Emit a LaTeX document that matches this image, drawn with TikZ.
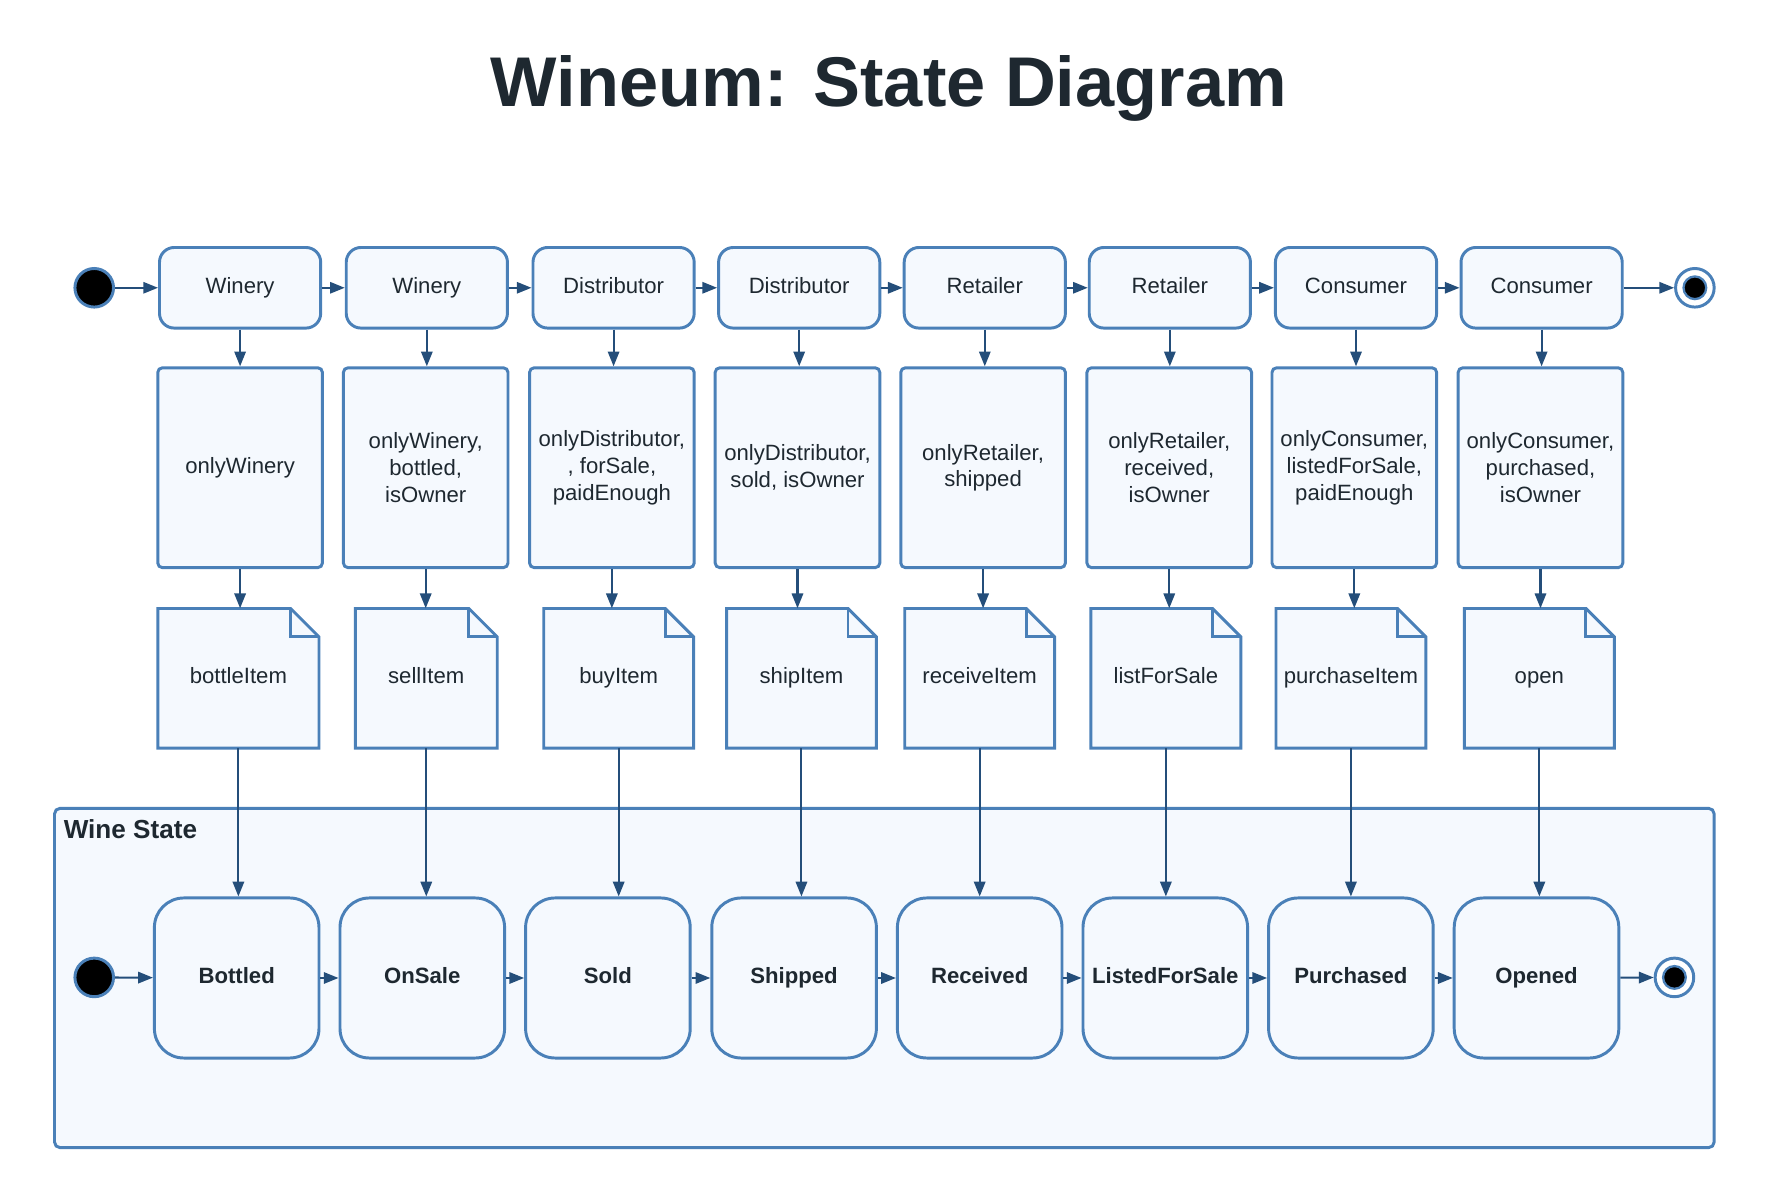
\documentclass[tikz,border=0pt]{standalone}
\usepackage{fontspec}
\setmainfont{Liberation Sans}
\usetikzlibrary{arrows.meta}
\definecolor{bfill}{HTML}{F5F9FE}
\definecolor{bline}{HTML}{4A80B8}
\definecolor{aline}{HTML}{244E7A}
\definecolor{tcol}{HTML}{1E2830}
\begin{document}
\begin{tikzpicture}[x=1pt,y=-1pt,
  base/.style={draw=bline, fill=bfill, line width=2.6pt, text=tcol, font=\fontsize{19.5}{23.5}\selectfont, align=center, inner sep=0pt},
  oneline/.style={text height=14pt, text depth=4pt},
  actor/.style={base, oneline, rounded corners=13pt, minimum width=142pt, minimum height=71pt},
  guard/.style={base, rounded corners=4pt, minimum width=145pt, minimum height=176pt},
  notebox/.style={oneline, text=tcol, font=\fontsize{19.5}{23.5}\selectfont, inner sep=0pt, minimum height=123pt},
  noteline/.style={draw=bline, fill=bfill, line width=2.6pt, line join=miter},
  state/.style={base, oneline, rounded corners=26pt, minimum width=145pt, minimum height=141pt, font=\fontsize{19.5}{23.5}\selectfont\bfseries},
  container/.style={base, rounded corners=5pt, minimum width=1462pt, minimum height=299pt},
  initdot/.style={circle, draw=bline, fill=black, line width=2.6pt, minimum size=34pt, inner sep=0pt},
  finalring/.style={circle, draw=bline, fill=white, line width=2.6pt, minimum size=34pt, inner sep=0pt},
  finaldot/.style={circle, draw=bline, fill=black, line width=2pt, minimum size=20pt, inner sep=0pt},
  flow/.style={draw=aline, line width=1.8pt, -{Triangle[length=13pt,width=10pt]}}
]
\useasboundingbox (0,0) rectangle (1568,1046.6);

% title
\node[anchor=base, text=tcol, font=\fontsize{62}{70}\selectfont\bfseries] (title) at (783,93.5) {Wineum: State Diagram};

% top row
\node[initdot] (s0) at (83,253.5) {};
\node[actor] (t1) at (211.5,253.5) {Winery};
\node[actor] (t2) at (376,253.5) {Winery};
\node[actor] (t3) at (540.5,253.5) {Distributor};
\node[actor] (t4) at (704,253.5) {Distributor};
\node[actor] (t5) at (867.5,253.5) {Retailer};
\node[actor] (t6) at (1030.5,253.5) {Retailer};
\node[actor] (t7) at (1194.5,253.5) {Consumer};
\node[actor] (t8) at (1358,253.5) {Consumer};
\node[finalring] (e0) at (1493,253.5) {};
\node[finaldot] (e0d) at (1493,253.5) {};

% guards
\node[guard] (m1) at (211.5,412) {\raisebox{1.5pt}{onlyWinery}};
\node[guard] (m2) at (375,412) {onlyWinery,\\bottled,\\isOwner};
\node[guard] (m3) at (539,412) {onlyDistributor,\\, forSale,\\paidEnough};
\node[guard] (m4) at (702.5,412) {onlyDistributor,\\sold, isOwner};
\node[guard] (m5) at (866,412) {onlyRetailer,\\shipped};
\node[guard] (m6) at (1030,412) {onlyRetailer,\\received,\\isOwner};
\node[guard] (m7) at (1193,412) {onlyConsumer,\\listedForSale,\\paidEnough};
\node[guard] (m8) at (1357,412) {onlyConsumer,\\purchased,\\isOwner};

% notes (functions)
\foreach \cx/\w/\t [count=\i] in {210/142/bottleItem, 375.5/125/sellItem, 545/132/buyItem, 706/132/shipItem, 863/132/receiveItem, 1027/132/listForSale, 1190/132/purchaseItem, 1356/132/open}{
  \path[noteline] ({\cx-\w/2},659) -- ({\cx-\w/2},536) -- ({\cx+\w/2-25},536) -- ({\cx+\w/2},561) -- ({\cx+\w/2},659) -- cycle;
  \draw[bline, line width=2.6pt, line join=miter] ({\cx+\w/2-25},536) -- ({\cx+\w/2-25},561) -- ({\cx+\w/2},561);
  \node[notebox, minimum width=\w pt] (n\i) at (\cx,597.5) {\t};
}

% container
\node[container] (ws) at (779,861.5) {};
\node[anchor=west, text=tcol, font=\fontsize{23}{27}\selectfont\bfseries, inner sep=0pt] (wsl) at (56,730) {Wine State};

% states
\node[initdot] (s1) at (83,861) {};
\node[state] (q1) at (208.5,861.5) {Bottled};
\node[state] (q2) at (372,861.5) {OnSale};
\node[state] (q3) at (535.5,861.5) {Sold};
\node[state] (q4) at (699.5,861.5) {Shipped};
\node[state] (q5) at (863,861.5) {Received};
\node[state] (q6) at (1026.5,861.5) {ListedForSale};
\node[state] (q7) at (1190,861.5) {Purchased};
\node[state] (q8) at (1353.5,861.5) {Opened};
\node[finalring] (e1) at (1475,861) {};
\node[finaldot] (e1d) at (1475,861) {};

% connectors
\draw[flow] (s0) -- (t1);
\draw[flow] (t8) -- (e0);
\draw[flow] (s1) -- (q1);
\draw[flow] (q8) -- (e1);
\foreach \a/\b in {1/2,2/3,3/4,4/5,5/6,6/7,7/8}{
  \draw[flow] (t\a.east) -- (t\b.west);
  \draw[flow] (q\a.east) -- (q\b.west);
}
\foreach \i in {1,...,8}{
  \draw[flow] (t\i.south) -- (t\i.south |- m\i.north);
  \draw[flow] (m\i.south) -- (m\i.south |- n\i.north);
  \draw[flow] (n\i.south) -- (n\i.south |- q\i.north);
}
\end{tikzpicture}
\end{document}
